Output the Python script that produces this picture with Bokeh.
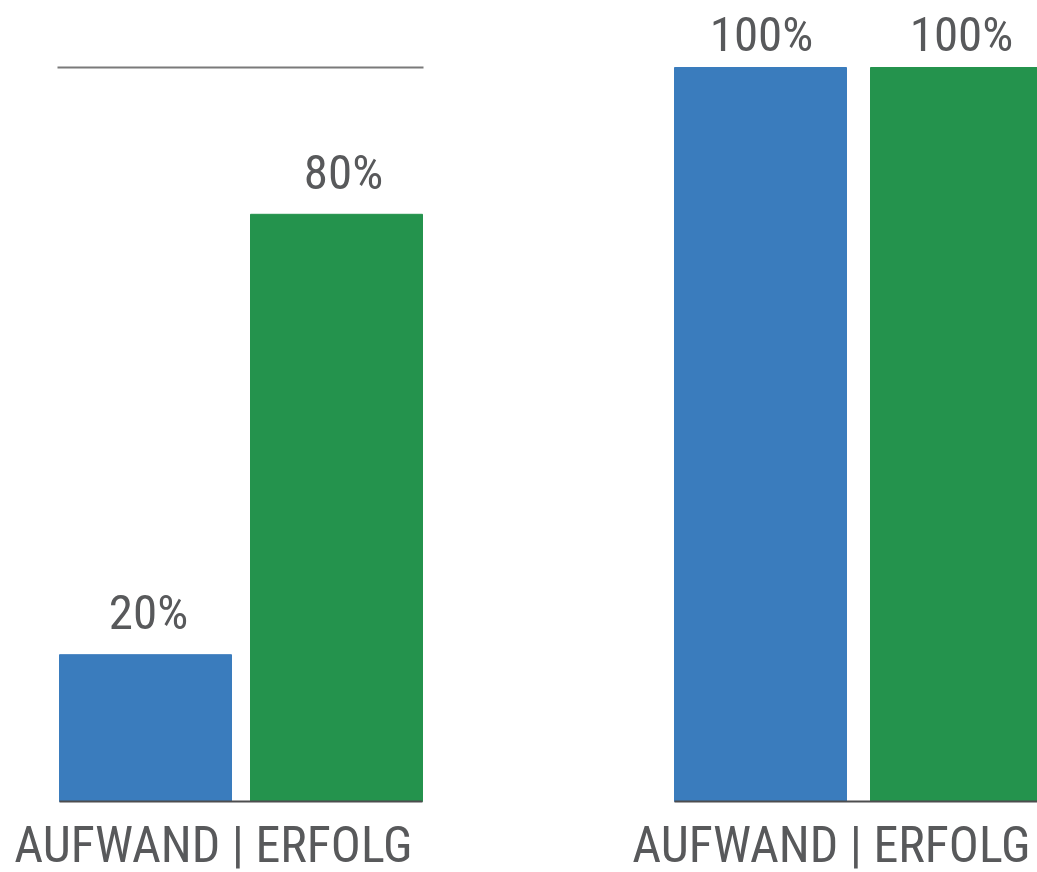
from bokeh.plotting import figure
from bokeh.models import Range1d, ColumnDataSource
from bokeh.core.properties import value
from bokeh.embed import file_html
from bokeh.resources import INLINE

# ---- data ----
panels = ["links", "rechts"]
categories = ["AUFWAND", "ERFOLG"]
left_values = [20, 80]
right_values = [100, 100]
value_labels_left = ["20%", "80%"]
value_labels_right = ["100%", "100%"]
axis_title = "AUFWAND | ERFOLG"
reference_level = 100

# ---- layout (pixel-based frame) ----
W, H = 1037, 872
base_px = 801          # pixel row of value 0 (from top)
top_px = 67            # pixel row of value 100
ppu = (base_px - top_px) / 100.0
y_top = base_px / ppu
y_bot = -(H - base_px) / ppu

blue = "#3a7cbd"
green = "#24934d"
text_col = "#58595b"
FONT = "Roboto Condensed"

p = figure(width=W, height=H, output_backend="svg", toolbar_location=None,
           x_range=Range1d(0, W), y_range=Range1d(y_bot, y_top),
           min_border=0, outline_line_color=None)
p.axis.visible = False
p.grid.visible = False
p.background_fill_color = "white"
p.border_fill_color = "white"

bar_w = 172
left_centers = [145, 336]
right_centers = [760, 956]
colors = [blue, green]

src = ColumnDataSource(dict(
    x=left_centers + right_centers,
    top=left_values + right_values,
    color=colors + colors,
    label=value_labels_left + value_labels_right,
    xoff=[3, 7, 1, 5],
    yoff=[-42, -42, -33, -33],
))
p.vbar(x="x", top="top", bottom=0, width=bar_w, color="color", source=src)

# baselines
p.segment(x0=[59, 674], y0=[0, 0], x1=[422, W], y1=[0, 0],
          line_color="#4d4d4f", line_width=2)
# 100% reference line in left panel
p.segment(x0=[57], y0=[reference_level], x1=[423], y1=[reference_level],
          line_color="#7a7a7a", line_width=2)

# value labels
p.text(x="x", y="top", text="label", source=src, x_offset="xoff", y_offset="yoff",
       text_align="center", text_baseline="alphabetic",
       text_font=value(FONT), text_font_size="49px", text_color=text_col)

# category axis titles
p.text(x=[213, 831], y=[0, 0], text=[axis_title, axis_title], y_offset=43,
       text_align="center", text_baseline="alphabetic",
       text_font=value(FONT), text_font_size="50px", text_color=text_col)

open("out.html", "w").write(file_html(p, INLINE))
